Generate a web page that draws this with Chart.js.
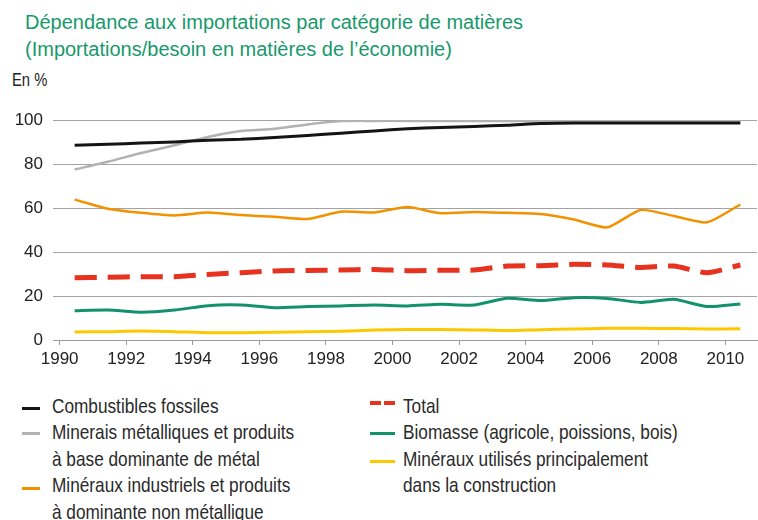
<!DOCTYPE html>
<html>
<head>
<meta charset="utf-8">
<script src="https://cdn.jsdelivr.net/npm/chart.js@4/dist/chart.umd.min.js"></script>
<style>
  html, body { margin:0; padding:0; background:#fff; }
  body { width:758px; height:520px; position:relative; overflow:hidden; }
  #title { position:absolute; left:25px; top:9px; font-family:"Liberation Sans", Arial, sans-serif; font-size:20px; line-height:27px; color:#17996c; white-space:nowrap; }
  #unit { position:absolute; left:12px; top:70px; font-family:"Liberation Sans", Arial, sans-serif; font-size:18px; line-height:20px; color:#222; transform:scaleX(0.82); transform-origin:0 0; }
  #chartWrap { position:absolute; left:0; top:95px; width:758px; height:280px; }
  .lg { position:absolute; font-family:"Liberation Sans", Arial, sans-serif; font-size:21px; line-height:26.5px; color:#2a2a2a; white-space:nowrap; transform:scaleX(0.82); transform-origin:0 0; }
  .sw { position:absolute; height:3px; }
</style>
</head>
<body>
<div id="title">Dépendance aux importations par catégorie de matières<br>(Importations/besoin en matières de l’économie)</div>
<div id="unit">En %</div>
<div id="chartWrap"><canvas id="c" width="758" height="280"></canvas></div>
<div id="legend"></div>
<script>
const YEARS = [1990,1991,1992,1993,1994,1995,1996,1997,1998,1999,2000,2001,2002,2003,2004,2005,2006,2007,2008,2009,2010];
const X_TICKS = [1990,1992,1994,1996,1998,2000,2002,2004,2006,2008,2010];
const Y_TICKS = [0,20,40,60,80,100];

const combustiblesFossiles  = [88.5,89.0,89.5,90.0,90.8,91.2,92.0,93.0,94.0,95.0,96.0,96.6,97.1,97.6,98.4,98.6,98.6,98.6,98.6,98.6,98.6];
const mineraisMetalliques   = [77.5,81.0,85.0,88.5,92.3,95.0,96.0,98.0,99.5,99.6,99.6,99.6,99.6,99.6,99.6,99.6,99.6,99.6,99.6,99.6,99.6];
const minerauxIndustriels   = [63.8,59.7,57.8,56.6,57.9,56.8,56.0,55.0,58.3,58.0,60.4,57.6,58.2,57.8,57.3,54.8,51.2,59.1,56.4,53.5,61.6];
const total                 = [28.3,28.5,28.8,28.8,29.8,30.6,31.4,31.6,31.8,32.1,31.5,31.7,31.8,33.6,33.8,34.4,34.1,33.0,33.6,30.6,34.1];
const biomasse              = [13.3,13.6,12.6,13.6,15.6,15.9,14.7,15.2,15.5,15.9,15.5,16.2,15.9,19.0,17.9,19.2,18.9,17.1,18.5,15.2,16.4];
const minerauxConstruction  = [3.6,3.8,4.1,3.8,3.3,3.3,3.5,3.8,4.0,4.5,4.8,4.8,4.6,4.3,4.7,5.0,5.3,5.3,5.2,5.0,5.1];

const LABELS = {
  fossiles: "Combustibles fossiles",
  metal: "Minerais métalliques et produits<br>à base dominante de métal",
  industriels: "Minéraux industriels et produits<br>à dominante non métallique",
  total: "Total",
  biomasse: "Biomasse (agricole, poissions, bois)",
  construction: "Minéraux utilisés principalement<br>dans la construction"
};

const COLORS = {
  fossiles: "#141414", metal: "#b2b2b2", industriels: "#f39200",
  total: "#e6321e", biomasse: "#12926b", construction: "#fcc900"
};

function pts(arr){ return YEARS.map((y,i)=>({x:y+0.45, y:arr[i]})); }

const ds = (label, arr, color, width, extra) => Object.assign({
  label, data: pts(arr), borderColor: color, backgroundColor: color,
  borderWidth: width, pointRadius: 0, tension: 0.2, fill: false
}, extra||{});

const TICK_FONT = { family: '"Liberation Sans", Arial, sans-serif', size: 17 };

new Chart(document.getElementById('c'), {
  type: 'line',
  data: {
    datasets: [
      ds(LABELS.construction, minerauxConstruction, COLORS.construction, 3),
      ds(LABELS.biomasse, biomasse, COLORS.biomasse, 3),
      ds(LABELS.total, total, COLORS.total, 5, {borderDash:[22,11], borderCapStyle:'butt'}),
      ds(LABELS.industriels, minerauxIndustriels, COLORS.industriels, 2.5),
      ds(LABELS.fossiles, combustiblesFossiles, COLORS.fossiles, 3),
      ds(LABELS.metal, mineraisMetalliques, COLORS.metal, 2.5)
    ]
  },
  options: {
    responsive: false,
    devicePixelRatio: 1,
    animation: false,
    layout: { padding: { top: 25, right: 1, left: 0, bottom: 0 } },
    plugins: { legend: { display: false }, tooltip: { enabled: false } },
    scales: {
      x: {
        type: 'linear', min: 1989.8, max: 2010.95,
        afterBuildTicks: s => { s.ticks = X_TICKS.map(v => ({ value: v })); },
        afterFit: s => { s.height = 35; },
        ticks: { callback: v => String(v), color: '#222', padding: 4, maxRotation: 0, autoSkip: false, font: TICK_FONT },
        grid: { drawOnChartArea: false, drawTicks: true, tickLength: 5, color: '#9a9a9a' },
        border: { display: true, color: '#9a9a9a', width: 1 }
      },
      y: {
        min: 0, max: 100,
        afterBuildTicks: s => { s.ticks = Y_TICKS.map(v => ({ value: v })); },
        afterFit: s => { s.width = 53; },
        ticks: { color: '#222', padding: 10, font: TICK_FONT },
        grid: { color: '#a3a3a3', lineWidth: 1, drawTicks: false },
        border: { display: false }
      }
    }
  }
});

// HTML legend (two columns)
const legendItems = [
  { key:'fossiles',     textX:52,  textTop:392.5, sw:{x:22, w:18, y:408} },
  { key:'metal',        textX:52,  textTop:419,   sw:{x:22, w:18, y:433} },
  { key:'industriels',  textX:52,  textTop:472,   sw:{x:22, w:18, y:488} },
  { key:'total',        textX:403, textTop:392.5, sw:{x:370, w:25, y:402, dashed:true} },
  { key:'biomasse',     textX:403, textTop:419,   sw:{x:370, w:25, y:433} },
  { key:'construction', textX:403, textTop:445.5, sw:{x:370, w:25, y:461} }
];
const lg = document.getElementById('legend');
legendItems.forEach(it => {
  const t = document.createElement('div');
  t.className = 'lg';
  t.style.left = it.textX + 'px';
  t.style.top = it.textTop + 'px';
  t.innerHTML = LABELS[it.key];
  lg.appendChild(t);
  const s = document.createElement('div');
  s.className = 'sw';
  s.style.left = it.sw.x + 'px';
  s.style.top = (it.sw.y - 1.5) + 'px';
  s.style.width = it.sw.w + 'px';
  if (it.sw.dashed) {
    s.style.height = '4px';
    s.style.background = `repeating-linear-gradient(90deg, ${COLORS[it.key]} 0 11px, transparent 11px 14px)`;
  } else {
    s.style.background = COLORS[it.key];
  }
  lg.appendChild(s);
});
</script>
</body>
</html>
